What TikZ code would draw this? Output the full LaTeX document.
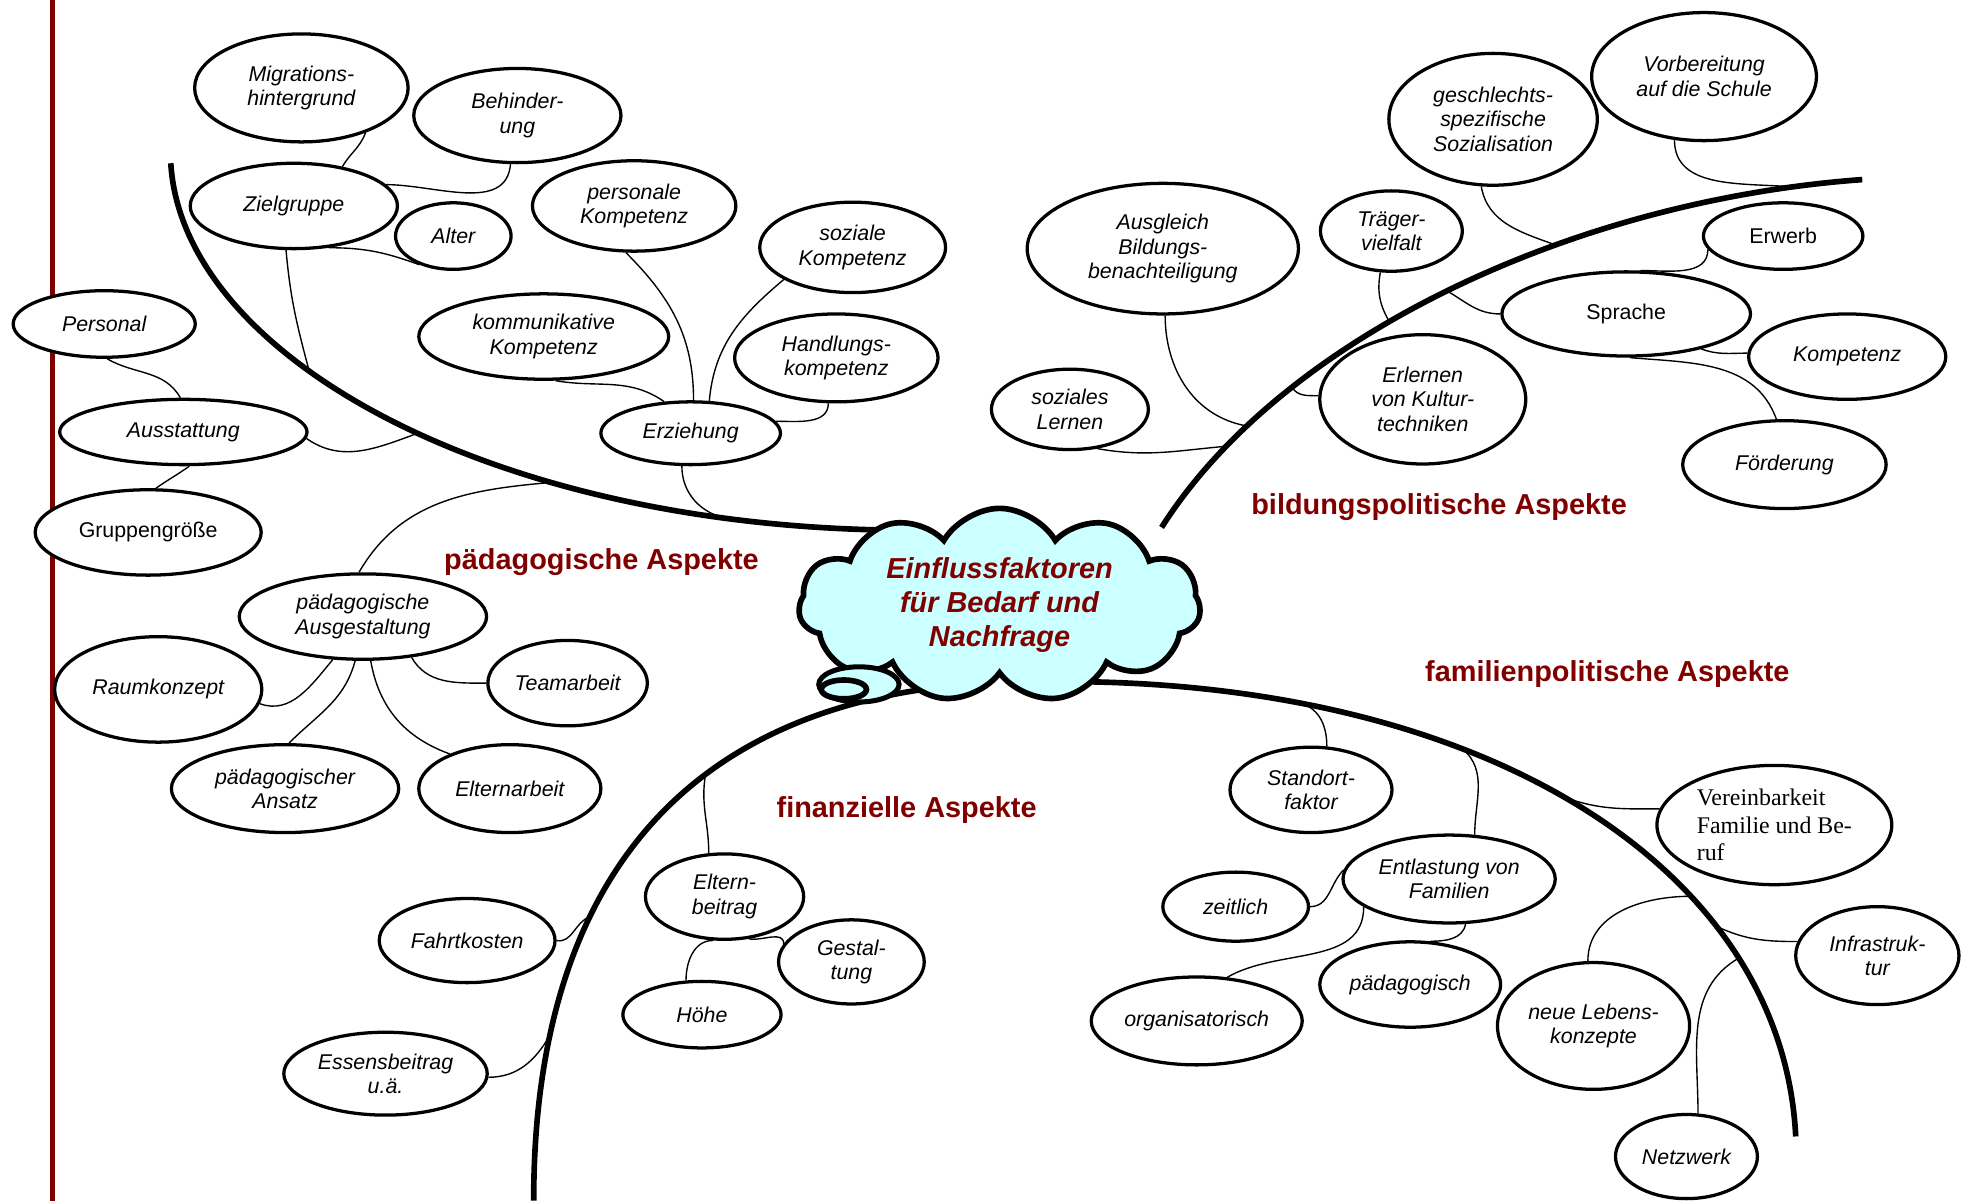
\documentclass[tikz,border=0pt]{standalone}
\usepackage{fontspec}
\setmainfont{Liberation Sans}
\newfontfamily\serifface{Liberation Serif}
\usetikzlibrary{shapes.geometric,shapes.symbols}

\definecolor{aspred}{RGB}{128,0,0}
\definecolor{cloudcyan}{RGB}{204,255,255}

\begin{document}
\begin{tikzpicture}[x=1pt, y=1pt,
      font=\fontsize{17}{19.5}\selectfont\itshape,
      idea/.style={draw, ellipse, line width=2.6pt, fill=white, inner sep=0pt, align=center},
      upidea/.style={idea, font=\fontsize{17}{19.5}\selectfont\upshape},
      sz/.style 2 args={minimum width=#1pt, minimum height=#2pt},
      twig/.style={line width=1.1pt},
      branch/.style={line width=4.5pt},
      hdr/.style={font=\fontsize{23}{26}\selectfont\bfseries, text=aspred},
    ]
    \useasboundingbox (0,0) rectangle (1568,-956);

    % margin line
    \draw[line width=3.6pt, aspred] (42,0) -- (42,-956);

    % the four branches
    \draw[branch] (136,-130) .. controls (145,-280) and (380,-415) ..
        coordinate[pos=0.4] (pzg) coordinate[pos=0.55] (paus)
        coordinate[pos=0.7] (pgest) coordinate[pos=0.87] (perz) (700,-422);
    \draw[branch] (925,-420) .. controls (1020,-270) and (1250,-160) ..
        coordinate[pos=0.15] (psoz) coordinate[pos=0.19] (pausg)
        coordinate[pos=0.27] (perl) coordinate[pos=0.42] (ptrae)
        coordinate[pos=0.5] (pspr) coordinate[pos=0.64] (pges)
        coordinate[pos=0.92] (pvor) (1483,-143);
    \draw[branch] (870,-543) .. controls (1200,-550) and (1420,-700) ..
        coordinate[pos=0.18] (pstd) coordinate[pos=0.34] (pent)
        coordinate[pos=0.46] (pver) coordinate[pos=0.65] (pleb)
        coordinate[pos=0.7] (pinf) coordinate[pos=0.75] (pnet) (1430,-905);
    \draw[branch] (770,-545) .. controls (530,-565) and (425,-720) ..
        coordinate[pos=0.36] (pelt) coordinate[pos=0.63] (pfahrt)
        coordinate[pos=0.8] (pess) (425,-956);

    % centre cloud
    \node[cloud, draw, fill=cloudcyan, line width=4.5pt, cloud puffs=11,
          cloud puff arc=120, cloud ignores aspect,
          minimum width=320pt, minimum height=152pt, align=center, text=aspred,
          font=\fontsize{23}{27}\selectfont\bfseries\itshape]
          (core) at (796,-482) {Einflussfaktoren\\für Bedarf und\\Nachfrage};
    \node[draw, ellipse, fill=cloudcyan, line width=4pt, sz={64}{28}] (curl) at (684,-545) {};
    \node[draw, ellipse, fill=cloudcyan, line width=4.5pt, sz={36}{15}] (curlin) at (672,-549) {};

    % paedagogische Aspekte
    \node[idea, sz={170}{86}] (mig) at (240,-70) {Migrations-\\hintergrund};
    \node[idea, sz={165}{75}] (beh) at (412,-92) {Behinder-\\ung};
    \node[idea, sz={165}{68}] (zg) at (234,-164) {Zielgruppe};
    \node[idea, sz={92}{53}] (alt) at (361,-188) {Alter};
    \node[idea, sz={162}{72}] (pk) at (505,-164) {personale\\Kompetenz};
    \node[idea, sz={148}{72}] (soz) at (679,-197) {soziale\\Kompetenz};
    \node[idea, sz={199}{68}] (kk) at (433,-268) {kommunikative\\Kompetenz};
    \node[idea, sz={162}{70}] (hk) at (666,-285) {Handlungs-\\kompetenz};
    \node[idea, sz={143}{50}] (erz) at (550,-345) {Erziehung};
    \node[idea, sz={145}{53}] (per) at (83,-258) {Personal};
    \node[idea, sz={197}{52}] (aus) at (146,-344) {Ausstattung};
    \node[upidea, sz={180}{68}] (grp) at (118,-424) {Gruppengröße};
    \node[idea, sz={197}{68}] (gest) at (289,-491) {pädagogische\\Ausgestaltung};
    \node[idea, sz={165}{84}] (rk) at (126,-549) {Raumkonzept};
    \node[idea, sz={127}{68}] (tb) at (452,-544) {Teamarbeit};
    \node[idea, sz={181}{70}] (pa) at (227,-628) {pädagogischer\\Ansatz};
    \node[idea, sz={145}{70}] (ea) at (406,-628) {Elternarbeit};

    % finanzielle Aspekte
    \node[idea, sz={140}{67}] (fk) at (372,-749) {Fahrtkosten};
    \node[idea, sz={162}{66}] (ess) at (307,-855) {Essensbeitrag\\u.ä.};
    \node[idea, sz={126}{68}] (eb) at (577,-714) {Eltern-\\beitrag};
    \node[idea, sz={116}{67}] (gt) at (678,-766) {Gestal-\\tung};
    \node[idea, sz={126}{53}] (hoe) at (559,-808) {Höhe};

    % familienpolitische Aspekte
    \node[idea, sz={129}{68}] (std) at (1044,-629) {Standort-\\faktor};
    \node[idea, sz={169}{70}] (ent) at (1154,-700) {Entlastung von\\Familien};
    \node[idea, sz={116}{55}] (zt) at (984,-722) {zeitlich};
    \node[idea, sz={168}{70}] (org) at (953,-813) {organisatorisch};
    \node[idea, sz={144}{68}] (pg) at (1123,-784) {pädagogisch};
    \node[idea, sz={187}{95}, align=left, font=\fontsize{19}{22}\selectfont\serifface\upshape]
          (ver) at (1413,-657) {Vereinbarkeit\\Familie und Be-\\ruf};
    \node[idea, sz={130}{78}] (inf) at (1495,-761) {Infrastruk-\\tur};
    \node[idea, sz={153}{101}] (leb) at (1269,-817) {neue Lebens-\\konzepte};
    \node[idea, sz={113}{67}] (net) at (1343,-921) {Netzwerk};

    % bildungspolitische Aspekte
    \node[idea, sz={216}{104}] (ab) at (926,-198) {Ausgleich\\Bildungs-\\benachteiligung};
    \node[idea, sz={125}{64}] (sl) at (852,-326) {soziales\\Lernen};
    \node[idea, sz={113}{64}] (tv) at (1108,-184) {Träger-\\vielfalt};
    \node[idea, sz={164}{103}] (erl) at (1133,-318) {Erlernen\\von Kultur-\\techniken};
    \node[idea, sz={166}{105}] (gs) at (1189,-95) {geschlechts-\\spezifische\\Sozialisation};
    \node[idea, sz={179}{102}] (vb) at (1357,-61) {Vorbereitung\\auf die Schule};
    \node[upidea, sz={127}{53}] (erw) at (1420,-188) {Erwerb};
    \node[upidea, sz={198}{67}] (spr) at (1295,-250) {Sprache};
    \node[idea, sz={157}{68}] (kmp) at (1471,-284) {Kompetenz};
    \node[idea, sz={162}{70}] (fo) at (1421,-370) {Förderung};

    % twigs, paedagogisch
    \draw[twig] (mig.-35) to[out=-110, in=60] (zg.39);
    \draw[twig] (beh.-98) to[out=-95, in=0] (zg.13);
    \draw[twig] (zg.-50) to[out=0, in=160] (alt.220);
    \draw[twig] (zg.-100) to[out=-85, in=105] (pzg);
    \draw[twig] (per.-85) to[out=-30, in=120] (aus.95);
    \draw[twig] (aus.-3) to[out=-35, in=200] (paus);
    \draw[twig] (grp.80) to[out=35, in=-145] (aus.-80);
    \draw[twig] (pk.-100) to[out=-45, in=90] (erz.85);
    \draw[twig] (soz.205) to[out=220, in=85] (erz.60);
    \draw[twig] (hk.-100) to[out=-90, in=0] (erz.8);
    \draw[twig] (kk.-75) to[out=-10, in=145] (erz.130);
    \draw[twig] (erz.-105) to[out=-90, in=170] (perz);
    \draw[twig] (gest.95) to[out=60, in=185] (pgest);
    \draw[twig] (rk.-8) to[out=-20, in=-130] (gest.-125);
    \draw[twig] (pa.85) to[out=45, in=-105] (gest.-100);
    \draw[twig] (gest.-80) to[out=-80, in=160] (ea.150);
    \draw[twig] (gest.-40) to[out=-60, in=180] (tb.180);

    % twigs, finanziell
    \draw[twig] (pelt) to[out=-100, in=90] (eb.110);
    \draw[twig] (fk.0) to[out=-10, in=200] (pfahrt);
    \draw[twig] (ess.-2) to[out=0, in=240] (pess);
    \draw[twig] (eb.-60) to[out=-10, in=90] (gt.165);
    \draw[twig] (eb.-105) to[out=180, in=90] (hoe.115);

    % twigs, familienpolitisch
    \draw[twig] (pstd) to[out=-20, in=90] (std.70);
    \draw[twig] (pent) to[out=-40, in=90] (ent.60);
    \draw[twig] (zt.0) to[out=0, in=225] (ent.175);
    \draw[twig] (ent.198) to[out=-90, in=30] (org.55);
    \draw[twig] (ent.-70) to[out=-100, in=0] (pg.65);
    \draw[twig] (pver) to[out=-20, in=180] (ver.172);
    \draw[twig] (pleb) to[out=180, in=90] (leb.95);
    \draw[twig] (pinf) to[out=-25, in=180] (inf.170);
    \draw[twig] (pnet) to[out=210, in=90] (net.75);

    % twigs, bildungspolitisch
    \draw[twig] (sl.-55) to[out=-10, in=185] (psoz);
    \draw[twig] (ab.-88) to[out=-90, in=170] (pausg);
    \draw[twig] (perl) to[out=-60, in=180] (erl.178);
    \draw[twig] (tv.-105) to[out=-100, in=120] (ptrae);
    \draw[twig] (pspr) to[out=-30, in=180] (spr.180);
    \draw[twig] (gs.-100) to[out=-80, in=160] (pges);
    \draw[twig] (vb.-115) to[out=-90, in=175] (pvor);
    \draw[twig] (erw.190) to[out=-90, in=0] (spr.72);
    \draw[twig] (spr.-25) to[out=-20, in=180] (kmp.178);
    \draw[twig] (spr.-85) to[out=-5, in=110] (fo.100);

    % branch titles
    \node[hdr] (hped) at (479,-448) {pädagogische Aspekte};
    \node[hdr] (hbil) at (1146,-404) {bildungspolitische Aspekte};
    \node[hdr] (hfam) at (1280,-537) {familienpolitische Aspekte};
    \node[hdr] (hfin) at (722,-645) {finanzielle Aspekte};
  \end{tikzpicture}
\end{document}
